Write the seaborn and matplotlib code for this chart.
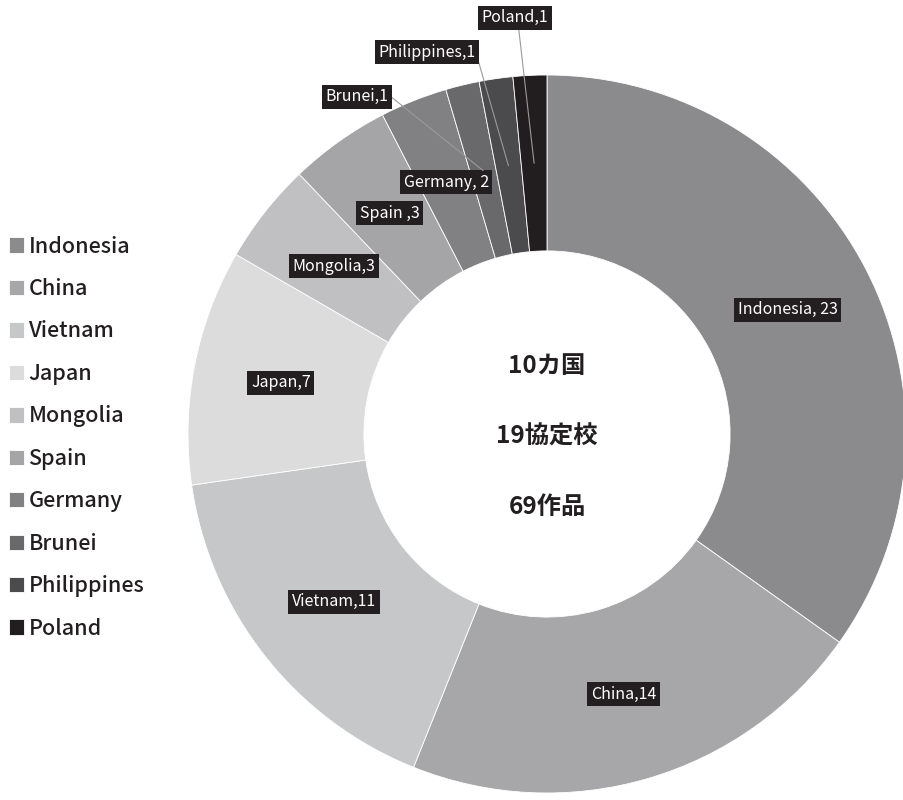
import numpy as np
import matplotlib.pyplot as plt
import seaborn as sns

# data
countries = ['Indonesia', 'China', 'Vietnam', 'Japan', 'Mongolia',
             'Spain', 'Germany', 'Brunei', 'Philippines', 'Poland']
counts = [23, 14, 11, 7, 3, 3, 2, 1, 1, 1]
label_texts = ['Indonesia, 23', 'China,14', 'Vietnam,11', 'Japan,7', 'Mongolia,3',
               'Spain ,3', 'Germany, 2', 'Brunei,1', 'Philippines,1', 'Poland,1']
center_lines = ['10カ国', '19協定校', '69作品']

colors = ['#8b8b8d', '#a7a7a9', '#c6c7c9', '#dcdcdd', '#c0c0c2',
          '#a5a5a7', '#818183', '#69696b', '#4b4b4d', '#221e1f']

sns.set_theme(style='white')
plt.rcParams['font.family'] = ['Noto Sans CJK JP', 'DejaVu Sans']

fig = plt.figure(figsize=(9.04, 8), dpi=100)
R = 359
cx, cy = 547, 800 - 434
ax = fig.add_axes([(cx - R) / 904, (cy - R) / 800, 2 * R / 904, 2 * R / 800])

wedges, _ = ax.pie(counts, colors=colors, startangle=90, counterclock=False,
                   radius=1.0, wedgeprops=dict(width=0.49, edgecolor='white', linewidth=0.6))
ax.set_xlim(-1, 1)
ax.set_ylim(-1, 1)
ax.set_aspect('equal')
ax.axis('off')

box = dict(boxstyle='square,pad=0.22', facecolor='#231f20', edgecolor='none')
total = sum(counts)
cum = np.cumsum([0] + counts)
# outside label positions (and leader line start on the box) for the smallest slices
outside = {'Brunei': ((-0.53, 0.94), (1, 0.62)),
           'Philippines': ((-0.335, 1.063), (1, 0.62)),
           'Poland': ((-0.089, 1.16), (0.55, 0))}
for i, (name, txt) in enumerate(zip(countries, label_texts)):
    mid = (cum[i] + counts[i] / 2) / total * 2 * np.pi
    r = 0.755
    mx, my = r * np.sin(mid), r * np.cos(mid)
    if name in outside:
        (lx, ly), rel = outside[name]
        ax.annotate(txt, xy=(mx, my), xytext=(lx, ly), ha='center', va='center',
                    color='white', fontsize=11.5, bbox=box,
                    arrowprops=dict(arrowstyle='-', color='#9a9a9a', lw=0.8,
                                    relpos=rel, shrinkA=0, shrinkB=0))
    else:
        ax.text(mx, my, txt, ha='center', va='center', color='white', fontsize=11.5, bbox=box)

for j, line in enumerate(center_lines):
    ax.text(0, 0.19 - j * 0.197, line, ha='center', va='center', fontsize=17.5,
            fontweight='bold', color='#231f20')

leg = fig.legend(wedges, countries, loc='center left', bbox_to_anchor=(0.0, 0.453),
                 frameon=False, fontsize=15.5, handlelength=0.72, handleheight=0.72,
                 handletextpad=0.2, labelspacing=0.95, borderaxespad=0.1, borderpad=0.3)
for t in leg.get_texts():
    t.set_color('#231f20')
    t.set_fontweight('medium')

fig.savefig('out.png', dpi=100)
